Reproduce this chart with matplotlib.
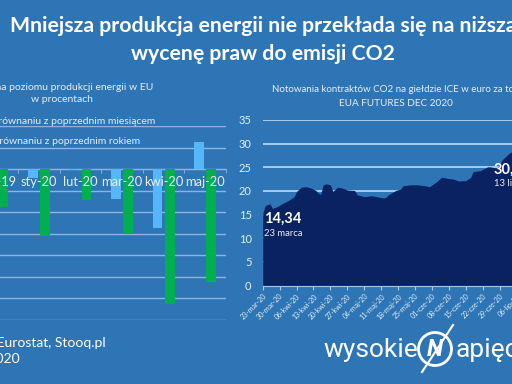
import matplotlib
matplotlib.use("Agg")
import matplotlib.pyplot as plt
from matplotlib.patches import Circle
import numpy as np
from datetime import datetime, timedelta

# ---------------- data ----------------
categories = ["gru-19", "sty-20", "lut-20", "mar-20", "kwi-20", "maj-20"]
mom_values = [-1.0, -0.8, -0.1, -2.8, -5.5, 2.5]      # w porównaniu z poprzednim miesiącem
yoy_values = [-3.5, -6.2, -2.9, -6.0, -12.5, -10.5]   # w porównaniu z poprzednim rokiem

co2_dates = ["2020-03-23", "2020-03-24", "2020-03-26", "2020-03-27", "2020-03-29",
             "2020-03-31", "2020-04-03", "2020-04-05", "2020-04-06", "2020-04-08",
             "2020-04-10", "2020-04-12", "2020-04-14", "2020-04-15", "2020-04-16",
             "2020-04-17", "2020-04-18", "2020-04-20", "2020-04-21", "2020-04-23",
             "2020-04-25", "2020-04-27", "2020-04-30", "2020-05-01", "2020-05-04",
             "2020-05-07", "2020-05-09", "2020-05-12", "2020-05-13", "2020-05-14",
             "2020-05-17", "2020-05-19", "2020-05-20", "2020-05-23", "2020-05-26",
             "2020-05-29", "2020-05-31", "2020-06-03", "2020-06-05", "2020-06-07",
             "2020-06-10", "2020-06-12", "2020-06-15", "2020-06-17", "2020-06-18",
             "2020-06-21", "2020-06-24", "2020-06-25", "2020-06-28", "2020-06-30",
             "2020-07-03", "2020-07-04", "2020-07-07", "2020-07-10", "2020-07-13",
             "2020-07-15", "2020-07-17"]
co2_values = [15.2, 16.9, 17.3, 16.3, 16.7,
              17.3, 18.1, 18.8, 19.9, 20.8,
              20.9, 20.6, 20.1, 19.5, 19.3,
              21.3, 21.5, 21.3, 19.9, 20.8,
              20.6, 20.2, 20.1, 19.2, 18.8,
              19.0, 18.8, 18.5, 18.7, 19.2,
              20.1, 20.4, 21.1, 21.3, 21.3,
              21.1, 20.9, 22.0, 22.9, 22.7,
              22.5, 22.1, 22.2, 22.9, 24.1,
              24.3, 25.1, 25.1, 24.8, 26.6,
              28.0, 28.3, 28.8, 29.6, 30.43,
              29.5, 29.0]
co2_yticks = [0, 5, 10, 15, 20, 25, 30, 35]
pl_months = {3: "mar", 4: "kwi", 5: "maj", 6: "cze", 7: "lip"}

# ---------------- style ----------------
BG = "#2E75B6"
GRID_L = "#8DB3E2"
GRID_R = "#A9CAEC"
LIGHTBLUE = "#55B6F8"
GREEN = "#00B050"
NAVY = "#0B2262"
WHITE = "white"
TXT = "#E6EEF7"
FONT = "Lato"

W, H = 512, 384
fig = plt.figure(figsize=(W / 100, H / 100), dpi=100, facecolor=BG)


def rect(x0, y0, x1, y1):
    """pixel box (top-left origin) -> figure fraction rect"""
    return [x0 / W, 1 - y1 / H, (x1 - x0) / W, (y1 - y0) / H]


# ---------------- left bar chart ----------------
cat_w = 41.6
axL = fig.add_axes(rect(226 - 6 * cat_w, 126, 226, 320))
axL.set_facecolor("none")
x = np.arange(len(categories))
bw = 0.235
axL.bar(x - 0.145, mom_values, width=bw, color=LIGHTBLUE, zorder=1.5)
axL.bar(x + 0.145, yoy_values, width=bw, color=GREEN, zorder=1.5)
axL.set_xlim(-0.5, len(categories) - 0.5)
axL.set_ylim(-14, 4)
axL.set_yticks(np.arange(-14, 5, 2))
axL.yaxis.grid(True, color=GRID_L, linewidth=1.0)
axL.yaxis.set_zorder(0.5)
axL.xaxis.set_zorder(5)
axL.tick_params(axis="y", length=0, labelleft=False)
for s in ["top", "right", "left"]:
    axL.spines[s].set_visible(False)
axL.spines["bottom"].set_position(("data", 0))
axL.spines["bottom"].set_color(GRID_L)
axL.spines["bottom"].set_zorder(1)
axL.set_xticks(x)
axL.set_xticklabels(categories, fontsize=9.3, color=TXT, family=FONT)
axL.set_xticks(np.arange(-0.5, len(categories), 1), minor=True)
axL.tick_params(axis="x", which="major", length=0, pad=5)
axL.tick_params(axis="x", which="minor", length=3, color=GRID_L, direction="out")

# ---------------- right area chart ----------------
d0 = datetime(2020, 3, 23)
d1 = datetime(2020, 7, 17)
px_per_day = 2.419
x_left = 262.7
x_right = x_left + (d1 - d0).days * px_per_day
axR = fig.add_axes(rect(x_left, 120, x_right, 285.6))
axR.set_facecolor("none")
dates = [datetime.strptime(d, "%Y-%m-%d") for d in co2_dates]
axR.fill_between(dates, co2_values, 0, color=NAVY, linewidth=0, zorder=3)
axR.set_xlim(d0, d1)
axR.set_ylim(0, 35)
axR.set_yticks(co2_yticks)
axR.set_yticklabels([str(v) for v in co2_yticks], fontsize=8, color=TXT, family=FONT)
axR.yaxis.grid(True, color=GRID_R, linewidth=1.4, zorder=0)
axR.tick_params(axis="y", length=0, pad=8)
for s in ["top", "right", "left"]:
    axR.spines[s].set_visible(False)
axR.spines["bottom"].set_color(GRID_R)
axR.spines["bottom"].set_zorder(4)
wk = [d0 + timedelta(days=7 * i) for i in range(17)]
axR.set_xticks(wk)
axR.set_xticklabels([f"{d.day:02d}-{pl_months[d.month]}-20" for d in wk],
                    rotation=45, ha="right", rotation_mode="anchor",
                    fontsize=5, color=TXT, family=FONT)
axR.tick_params(axis="x", length=3, color=GRID_R, pad=2)

# ---------------- overlay (texts, logo) ----------------
ov = fig.add_axes([0, 0, 1, 1], zorder=10)
ov.set_xlim(0, W)
ov.set_ylim(H, 0)
ov.axis("off")
ov.patch.set_alpha(0)

ov.text(263, 26, "Mniejsza produkcja energii nie przekłada się na niższą",
        ha="center", va="center", fontsize=15.3, fontweight="bold", color=WHITE, family=FONT)
ov.text(263, 54, "wycenę praw do emisji CO2",
        ha="center", va="center", fontsize=15.3, fontweight="bold", color=WHITE, family=FONT)

ov.text(63, 87, "Zmiana poziomu produkcji energii w EU", ha="center", va="center",
        fontsize=7.5, color=TXT, family=FONT)
ov.text(62, 100, "w procentach", ha="center", va="center", fontsize=7.5, color=TXT, family=FONT)

ov.text(155, 121, "w porównaniu z poprzednim miesiącem", ha="right", va="center",
        fontsize=7.5, color=TXT, family=FONT)
ov.text(140, 142, "w porównaniu z poprzednim rokiem", ha="right", va="center",
        fontsize=7.5, color=TXT, family=FONT)

ov.text(398, 90, "Notowania kontraktów CO2 na giełdzie ICE w euro za tonę", ha="center",
        va="center", fontsize=7.0, color=TXT, family=FONT)
ov.text(396, 103, "EUA FUTURES DEC 2020", ha="center", va="center",
        fontsize=7.2, color=TXT, family=FONT)

ov.text(264, 219, "14,34", ha="left", va="center", fontsize=10.5, fontweight="bold",
        color=WHITE, family=FONT)
ov.text(264, 233, "23 marca", ha="left", va="center", fontsize=6.8, color=TXT, family=FONT)
ov.text(494, 170, "30,43", ha="left", va="center", fontsize=10.5, fontweight="bold",
        color=WHITE, family=FONT)
ov.text(494, 183, "13 lipca", ha="left", va="center", fontsize=6.8, color=TXT, family=FONT)

ov.text(106, 342, "Źródło: Eurostat, Stooq.pl", ha="right", va="center",
        fontsize=10, color=WHITE, family=FONT)
ov.text(20, 359, "lipiec 2020", ha="right", va="center",
        fontsize=10, color=WHITE, family=FONT)

# logo
ov.text(418, 350, "wysokie", ha="right", va="center", fontsize=19, color=WHITE, family="Roboto")
ov.text(456, 350, "apięcie", ha="left", va="center", fontsize=19, color=WHITE, family="Roboto")
ov.add_patch(Circle((435, 349), 16.5, fill=False, edgecolor=WHITE, linewidth=2))
ov.text(435, 349, "N", ha="center", va="center", fontsize=17, fontweight="bold",
        style="italic", color=WHITE, family="Roboto")
ov.plot([453, 422], [325, 372], color=WHITE, linewidth=1.5)

fig.savefig("out.png", dpi=100, facecolor=BG)
